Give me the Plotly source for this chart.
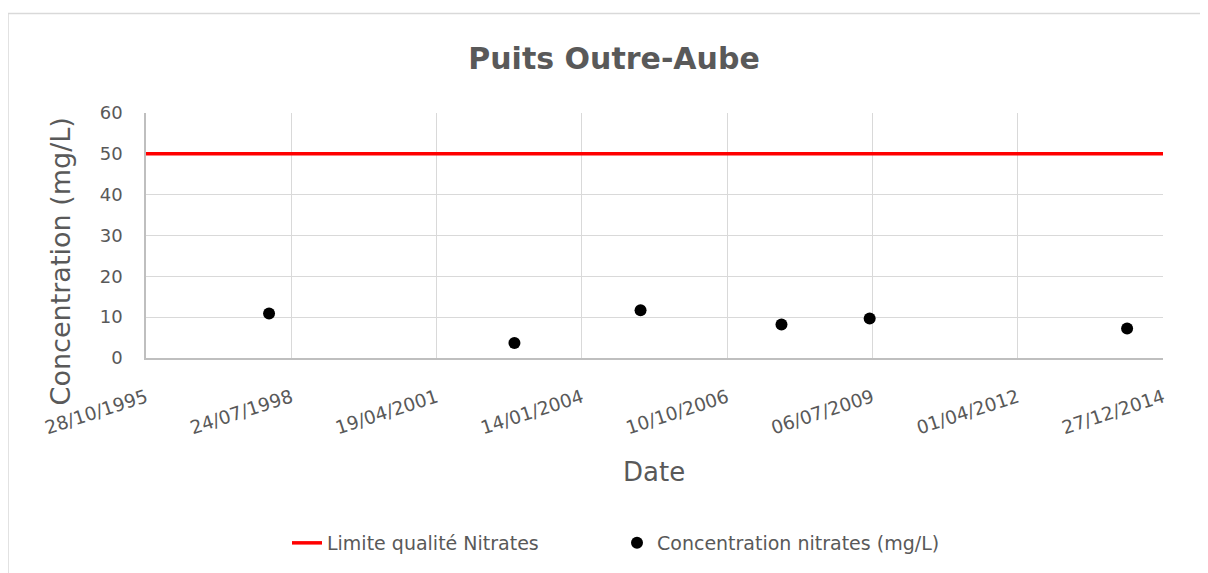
import plotly.graph_objects as go

# Data
sample_dates = ["1998-02-21", "2002-10-07", "2005-02-21", "2007-10-19", "2009-06-17", "2014-04-24"]
nitrates = [10.9, 3.7, 11.7, 8.2, 9.7, 7.2]
limit_dates = ["1995-10-28", "2014-12-27"]
limit_values = [50, 50]
y_ticks = [0, 10, 20, 30, 40, 50, 60]

GREY = "#595959"
FONT = "DejaVu Sans"

fig = go.Figure()
fig.add_trace(go.Scatter(
    x=limit_dates, y=limit_values, mode="lines",
    name="Limite qualité Nitrates",
    line=dict(color="#ff0000", width=3.5),
))
fig.add_trace(go.Scatter(
    x=sample_dates, y=nitrates, mode="markers",
    name="Concentration nitrates (mg/L)",
    marker=dict(color="#000000", size=12),
))

OFF = 8  # page body margin
W, H = 1208 - OFF, 573 - OFF
L, R, T, B = 146 - OFF, 1163 - OFF, 113 - OFF, 359 - OFF
pw, ph = R - L, B - T


def px_x(x):
    return (x - OFF - L) / pw


def px_y(y):
    return (B - (y - OFF)) / ph


fig.update_layout(
    width=W, height=H,
    margin=dict(l=L, r=W - R, t=T, b=H - B),
    paper_bgcolor="white", plot_bgcolor="white",
    font=dict(family=FONT, color=GREY, size=16),
    title=dict(text="<b>Puits Outre-Aube</b>", x=(614 - OFF) / W, xanchor="center",
               y=1 - (58 - OFF) / H, yanchor="middle", yref="container",
               font=dict(size=30, color=GREY, family=FONT)),
    showlegend=True,
    legend=dict(orientation="h", x=px_x(287), xanchor="left",
                y=px_y(543), yanchor="middle",
                font=dict(size=19, color=GREY, family=FONT),
                itemwidth=30, entrywidth=285),
    xaxis=dict(
        type="date",
        range=[limit_dates[0], limit_dates[1]],
        tickmode="linear", tick0=limit_dates[0], dtick=1000 * 86400000,
        tickformat="%d/%m/%Y", tickangle=-18,
        showgrid=True, gridcolor="#d9d9d9", gridwidth=1,
        showline=True, linecolor="#bfbfbf", linewidth=1.5,
        ticks="", tickfont=dict(size=18.5, color=GREY),
        ticklabelstandoff=20,
        zeroline=False,
    ),
    yaxis=dict(
        range=[0, 60], tickvals=y_ticks,
        showgrid=True, gridcolor="#d9d9d9", gridwidth=1,
        showline=True, linecolor="#bfbfbf", linewidth=1.5,
        ticks="", tickfont=dict(size=18, color=GREY),
        ticklabelstandoff=18,
        zeroline=False,
    ),
)

# Axis titles
fig.add_annotation(text="Date", xref="paper", yref="paper",
                   x=px_x(654), y=px_y(473), xanchor="center", yanchor="middle",
                   showarrow=False, font=dict(size=26, color=GREY, family=FONT))
fig.add_annotation(text="Concentration (mg/L)", xref="paper", yref="paper",
                   x=px_x(60), y=px_y(262), xanchor="center", yanchor="middle",
                   textangle=-90, showarrow=False,
                   font=dict(size=27, color=GREY, family=FONT))

# Outer chart border
fig.add_shape(type="rect", xref="paper", yref="paper",
              x0=px_x(8), x1=px_x(1220),
              y0=px_y(600), y1=px_y(13),
              line=dict(color="#d9d9d9", width=1.5), fillcolor="rgba(0,0,0,0)",
              layer="below")

fig.write_html("out.html")
